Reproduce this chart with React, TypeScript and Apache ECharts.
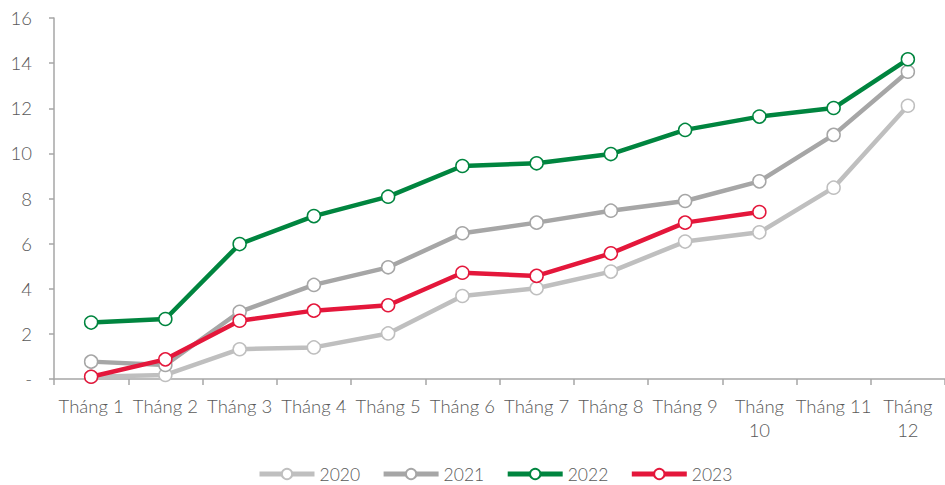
import React, { useEffect, useRef } from "react";
import * as echarts from "echarts";

const categories = ["Tháng 1", "Tháng 2", "Tháng 3", "Tháng 4", "Tháng 5", "Tháng 6", "Tháng 7", "Tháng 8", "Tháng 9", "Tháng\n10", "Tháng 11", "Tháng\n12"];
const s2020 = [0.1, 0.18, 1.32, 1.4, 2.02, 3.68, 4.02, 4.76, 6.09, 6.5, 8.48, 12.11];
const s2021 = [0.77, 0.62, 2.98, 4.17, 4.95, 6.46, 6.93, 7.46, 7.89, 8.76, 10.82, 13.62];
const s2022 = [2.5, 2.66, 5.98, 7.22, 8.08, 9.44, 9.56, 9.97, 11.04, 11.63, 12.01, 14.17];
const s2023 = [0.1, 0.87, 2.58, 3.03, 3.27, 4.71, 4.57, 5.57, 6.93, 7.4];
const seriesNames = ["2020", "2021", "2022", "2023"];
const seriesColors = ["#BFBFBF", "#A6A6A6", "#00853F", "#E4173B"];

const FONT = "Lato";
const TEXT = "#595959";

export default function App() {
  const ref = useRef<HTMLDivElement>(null);
  useEffect(() => {
    if (!ref.current) return;
    const chart = echarts.init(ref.current, undefined, { renderer: "svg" });
    const datas = [s2020, s2021, s2022, s2023];
    chart.setOption({
      animation: false,
      grid: { left: 54, right: 0, top: 18, bottom: 106, containLabel: false },
      legend: {
        top: 465,
        left: 257,
        padding: 0,
        itemWidth: 55,
        itemHeight: 13,
        itemGap: 21,
        data: seriesNames,
        lineStyle: { width: 5 },
        textStyle: { fontFamily: FONT, fontSize: 17.5, fontWeight: 300, color: TEXT },
      },
      xAxis: {
        type: "category",
        data: categories,
        boundaryGap: true,
        axisLine: { lineStyle: { color: "#A6A6A6", width: 1.5 } },
        axisTick: { show: true, length: 6, lineStyle: { color: "#A6A6A6", width: 1.5 } },
        axisLabel: { fontFamily: FONT, fontSize: 18.5, fontWeight: 300, color: TEXT, margin: 15, lineHeight: 24, interval: 0 },
      },
      yAxis: {
        type: "value",
        min: 0,
        max: 16,
        interval: 2,
        splitLine: { show: false },
        axisLine: { show: true, lineStyle: { color: "#A6A6A6", width: 1.5 } },
        axisTick: { show: true, length: 5, lineStyle: { color: "#A6A6A6", width: 1.5 } },
        axisLabel: {
          fontFamily: FONT,
          fontSize: 18.5,
          fontWeight: 300,
          color: TEXT,
          margin: 22,
          formatter: (v: number) => (v === 0 ? "-" : String(v)),
        },
      },
      series: seriesNames.map((name, i) => ({
        name,
        type: "line",
        data: datas[i],
        color: seriesColors[i],
        symbol: "circle",
        symbolSize: 13,
        showSymbol: true,
        lineStyle: { color: seriesColors[i], width: 4.5 },
        itemStyle: { color: "#FFFFFF", borderColor: seriesColors[i], borderWidth: 1.5 },
        z: 2 + i,
      })),
    });
    return () => chart.dispose();
  }, []);
  return <div ref={ref} style={{ width: 945, height: 485, position: "absolute", left: 0, top: 0 }} />;
}
